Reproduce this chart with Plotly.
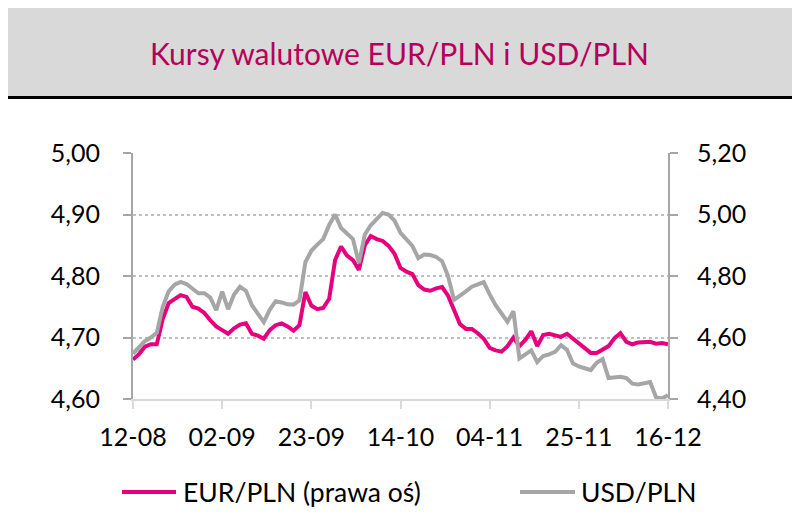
import pandas as pd
import plotly.graph_objects as go

# business days 12-08-2022 .. 16-12-2022
dates = pd.bdate_range("2022-08-12", "2022-12-16")
categories = [d.strftime("%d-%m") for d in dates]
tick_labels = ["12-08", "02-09", "23-09", "14-10", "04-11", "25-11", "16-12"]

eur_pln = [
    4.664, 4.673, 4.685, 4.689, 4.689, 4.730, 4.756, 4.763, 4.769, 4.766,
    4.750, 4.747, 4.740, 4.728, 4.718, 4.712, 4.706, 4.715, 4.721, 4.723,
    4.706, 4.703, 4.698, 4.712, 4.720, 4.723, 4.718, 4.711, 4.720, 4.774,
    4.752, 4.746, 4.748, 4.763, 4.826, 4.848, 4.833, 4.826, 4.810, 4.850,
    4.865, 4.860, 4.857, 4.849, 4.836, 4.813, 4.807, 4.803, 4.785, 4.778,
    4.776, 4.780, 4.782, 4.768, 4.744, 4.722, 4.714, 4.714, 4.707, 4.698,
    4.683, 4.679, 4.677, 4.686, 4.700, 4.686, 4.696, 4.710, 4.686, 4.704,
    4.706, 4.703, 4.701, 4.706, 4.698, 4.690, 4.682, 4.675, 4.675, 4.680,
    4.686, 4.699, 4.707, 4.693, 4.689, 4.692, 4.693, 4.693, 4.690, 4.691,
    4.689,
]

usd_pln = [
    4.548, 4.566, 4.588, 4.600, 4.615, 4.700, 4.750, 4.772, 4.781, 4.774,
    4.759, 4.744, 4.744, 4.730, 4.689, 4.749, 4.692, 4.740, 4.765, 4.752,
    4.705, 4.676, 4.650, 4.690, 4.718, 4.714, 4.708, 4.707, 4.721, 4.845,
    4.882, 4.902, 4.920, 4.966, 5.000, 4.956, 4.938, 4.920, 4.842, 4.935,
    4.965, 4.985, 5.005, 5.000, 4.980, 4.940, 4.918, 4.898, 4.858, 4.870,
    4.868, 4.862, 4.848, 4.800, 4.722, 4.735, 4.750, 4.765, 4.771, 4.780,
    4.740, 4.705, 4.678, 4.651, 4.685, 4.532, 4.545, 4.558, 4.520, 4.540,
    4.545, 4.553, 4.575, 4.560, 4.516, 4.506, 4.500, 4.494, 4.518, 4.530,
    4.468, 4.470, 4.472, 4.468, 4.450, 4.447, 4.452, 4.455, 4.405, 4.402,
    4.412,
]

left_ticks = [4.60, 4.70, 4.80, 4.90, 5.00]
right_ticks = [4.40, 4.60, 4.80, 5.00, 5.20]
series_names = ["EUR/PLN (prawa oś)", "USD/PLN"]

MAGENTA = "#e6007e"
GREY = "#a6a6a6"
TITLE_COLOR = "#b5005b"
FONT = "Lato"

fig = go.Figure()
fig.add_trace(go.Scatter(
    x=categories, y=eur_pln, mode="lines", name=series_names[0],
    line=dict(color=MAGENTA, width=4), yaxis="y",
))
fig.add_trace(go.Scatter(
    x=categories, y=usd_pln, mode="lines", name=series_names[1],
    line=dict(color=GREY, width=4), yaxis="y2",
))

# the page body adds an 8px offset, so the figure is laid out in
# screenshot coordinates minus 8
OFF = 8
W, H = 800 - OFF, 516 - OFF
L = 133 - OFF
R = W - (668 - OFF)
T = 153 - OFF
B = H - (399 - OFF)
pw, ph = W - L - R, H - T - B

def px_x(px):
    return (px - OFF - L) / pw

def px_y(py):
    return (H - B - (py - OFF)) / ph

shapes = [
    dict(type="rect", xref="paper", yref="paper",
         x0=px_x(6), x1=px_x(795), y0=px_y(96), y1=px_y(0),
         fillcolor="#d9d9d9", line=dict(width=0), layer="below"),
    dict(type="line", xref="paper", yref="paper",
         x0=px_x(6), x1=px_x(795), y0=px_y(97.5), y1=px_y(97.5),
         line=dict(color="black", width=3)),
]
annotations = [
    dict(text="Kursy walutowe EUR/PLN i USD/PLN", xref="paper", yref="paper",
         x=px_x(399), y=px_y(53), xanchor="center", yanchor="middle",
         showarrow=False,
         font=dict(family=FONT, size=30, color=TITLE_COLOR)),
]
# legend drawn in the bottom margin
legend_items = [(122, 176, 181, MAGENTA), (520, 575, 579, GREY)]
for (lx0, lx1, tx, col), name in zip(legend_items, series_names):
    shapes.append(dict(type="line", xref="paper", yref="paper",
                       x0=px_x(lx0), x1=px_x(lx1), y0=px_y(492), y1=px_y(492),
                       line=dict(color=col, width=4)))
    annotations.append(dict(text=name, xref="paper", yref="paper",
                            x=px_x(tx), y=px_y(492), xanchor="left", yanchor="middle",
                            showarrow=False,
                            font=dict(family=FONT, size=26.5, color="black")))

fig.update_layout(
    width=W, height=H,
    margin=dict(l=L, r=R, t=T, b=B, pad=0),
    paper_bgcolor="white", plot_bgcolor="white",
    separators=", ",
    font=dict(family=FONT, size=24, color="black"),
    showlegend=False,
    xaxis=dict(
        type="category", range=[0, len(categories) - 1],
        tickmode="array",
        tickvals=tick_labels, ticktext=tick_labels,
        showline=True, linecolor="#d9d9d9", linewidth=2,
        ticks="outside", ticklen=8, tickcolor="#d9d9d9", tickwidth=2,
        showgrid=False, zeroline=False, automargin=False,
        ticklabelstandoff=7,
        tickfont=dict(family=FONT, size=25, color="black"),
    ),
    yaxis=dict(
        range=[4.60, 5.00], tickvals=left_ticks, tickformat=".2f",
        showline=True, linecolor=GREY, linewidth=2,
        ticks="outside", ticklen=8, tickcolor=GREY, tickwidth=2,
        showgrid=True, gridcolor="#bfbfbf", griddash="dot", gridwidth=1.5,
        zeroline=False, ticklabelstandoff=18, automargin=False,
        tickfont=dict(family=FONT, size=25, color="black"),
    ),
    yaxis2=dict(
        range=[4.40, 5.20], tickvals=right_ticks, tickformat=".2f",
        overlaying="y", side="right",
        showline=True, linecolor=GREY, linewidth=2,
        ticks="outside", ticklen=8, tickcolor=GREY, tickwidth=2,
        showgrid=False, zeroline=False, ticklabelstandoff=14, automargin=False,
        tickfont=dict(family=FONT, size=25, color="black"),
    ),
    shapes=shapes,
    annotations=annotations,
)

fig.write_html("out.html")
